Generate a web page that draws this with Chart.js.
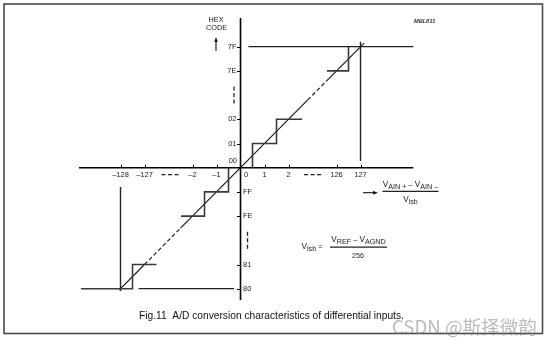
<!DOCTYPE html>
<html>
<head>
<meta charset="utf-8">
<script src="https://cdn.jsdelivr.net/npm/chart.js@4/dist/chart.umd.min.js"></script>
<style>
html,body{margin:0;padding:0;background:#fff;}
#wrap{width:554px;height:344px;position:relative;}
canvas{display:block;}
</style>
</head>
<body>
<div id="wrap"><canvas id="c" width="554" height="344"></canvas></div>
<script>
// ---- Tick values (real units) and their labels ----
const xTickValues = [-128, -127, -2, -1, 0, 1, 2, 126, 127];
const xTickLabels = ['–128', '–127', '–2', '–1', '0', '1', '2', '126', '127'];
const yTickValues = [127, 126, 2, 1, 0, -1, -2, -127, -128];
const yTickLabels = ['7F', '7E', '02', '01', '00', 'FF', 'FE', '81', '80'];

// ---- Series: [input (VAIN+ - VAIN-)/Vlsb, output code (signed)] ----
const stepPositive = [[0.5, 0], [0.5, 1], [1.5, 1], [1.5, 2], [2.57, 2]];
const stepNegative = [[-0.5, 0], [-0.5, -1], [-1.5, -1], [-1.5, -2], [-2.48, -2]];
const stepTop = [[125.6, 126], [126.5, 126], [126.5, 127]];
const level7F = [[0.33, 127], [129.2, 127]];
const marker127 = [[127, 127.2], [127, 0.28]];
const stepBottom = [[-129.65, -128], [-127.5, -128], [-127.5, -127], [-126.5, -127]];
const level80 = [[-127.25, -128], [-0.27, -128]];
const markerMinus128 = [[-128, -0.8], [-128, -128.1]];
const idealLine = [[-128.05, -128.05], [-127, -127], [-2.5, -2.5], [2.8, 2.8], [125.6, 125.6], [127.15, 127.15]];
const idealDashedSegments = [1, 3];

// axis extents (real units)
const xAxisExtent = [-129.73, 129.2];
const yAxisExtent = [-128.47, 128.19];

// broken axis: values beyond +/-125 are shifted next to the small values
function axisPos(v) { return v >= 125 ? v - 122 : (v <= -125 ? v + 123 : v); }
function toPts(arr) { return arr.map(p => ({ x: axisPos(p[0]), y: axisPos(p[1]) })); }

const STEP_COLOR = '#3a3a3a';

function lineDs(arr, color, width, extra) {
  return Object.assign({
    data: toPts(arr), borderColor: color, borderWidth: width,
    pointRadius: 0, fill: false, tension: 0, borderJoinStyle: 'miter', borderCapStyle: 'butt'
  }, extra || {});
}

const FONT = '"Liberation Sans", Arial, sans-serif';

function fitFont(ctx, text, targetW, weight, style, family) {
  ctx.font = (style || '') + ' ' + (weight || '') + ' 10px ' + (family || FONT);
  const w = ctx.measureText(text).width;
  return 10 * targetW / w;
}

function drawParts(ctx, x, y, parts) {
  let cx = x;
  for (const p of parts) {
    ctx.font = p.s + 'px ' + FONT;
    ctx.fillText(p.t, cx, y + (p.dy || 0));
    cx += ctx.measureText(p.t).width;
  }
  return cx - x;
}
function partsWidth(ctx, parts) {
  let w = 0;
  for (const p of parts) { ctx.font = p.s + 'px ' + FONT; w += ctx.measureText(p.t).width; }
  return w;
}

const decor = {
  id: 'decor',
  beforeDatasetsDraw(chart) {
    const ctx = chart.ctx;
    const xs = chart.scales.x, ys = chart.scales.y;
    const px = v => xs.getPixelForValue(axisPos(v));
    const py = v => ys.getPixelForValue(axisPos(v));
    ctx.save();
    // frame
    ctx.strokeStyle = '#4a4a4a';
    ctx.lineWidth = 1.6;
    ctx.strokeRect(4, 4, 538.5, 329.5);
    // axes
    ctx.strokeStyle = '#000';
    ctx.lineWidth = 1.6;
    ctx.beginPath();
    ctx.moveTo(px(xAxisExtent[0]), py(0));
    ctx.lineTo(px(xAxisExtent[1]), py(0));
    ctx.moveTo(px(0), py(yAxisExtent[1]));
    ctx.lineTo(px(0), py(yAxisExtent[0]));
    ctx.stroke();
    // x ticks (upwards)
    ctx.lineWidth = 1;
    ctx.beginPath();
    xTickValues.forEach(v => {
      if (v === 0) return;
      const x = Math.round(px(v)) + 0.5;
      ctx.moveTo(x, py(0)); ctx.lineTo(x, py(0) - 3);
    });
    // y ticks (left)
    yTickValues.forEach(v => {
      if (v === 0) return;
      const y = Math.round(py(v)) + 0.5;
      ctx.moveTo(px(0), y); ctx.lineTo(px(0) - 3.5, y);
    });
    ctx.stroke();
    ctx.restore();
  },
  afterDraw(chart) {
    const ctx = chart.ctx;
    const xs = chart.scales.x, ys = chart.scales.y;
    const px = v => xs.getPixelForValue(axisPos(v));
    const py = v => ys.getPixelForValue(axisPos(v));
    const x0 = px(0), y0 = py(0);
    ctx.save();
    ctx.fillStyle = '#1a1a1a';
    // x tick labels
    ctx.font = '7.5px ' + FONT;
    ctx.textBaseline = 'middle';
    ctx.textAlign = 'center';
    xTickValues.forEach((v, i) => {
      const x = v === 0 ? x0 + 5.5 : px(v);
      ctx.fillText(xTickLabels[i], x, y0 + 7.2);
    });
    // y tick labels
    yTickValues.forEach((v, i) => {
      if (v > 0) { ctx.textAlign = 'right'; ctx.fillText(yTickLabels[i], x0 - 4, py(v)); }
      else if (v === 0) { ctx.textAlign = 'right'; ctx.fillText(yTickLabels[i], x0 - 3.5, y0 - 6.5); }
      else { ctx.textAlign = 'left'; ctx.fillText(yTickLabels[i], x0 + 2.5, py(v)); }
    });
    // break dashes
    ctx.strokeStyle = '#222';
    ctx.lineWidth = 1.3;
    ctx.beginPath();
    const hDash = (cx, y) => { for (let k = -1; k <= 1; k++) { const s = cx + k * 6.5 - 2; ctx.moveTo(s, y); ctx.lineTo(s + 4, y); } };
    const vDash = (x, cy) => { for (let k = -1; k <= 1; k++) { const s = cy + k * 6.5 - 2; ctx.moveTo(x, s); ctx.lineTo(x, s + 4); } };
    hDash((px(-127) + px(-2)) / 2 + 1.5, y0 + 7);
    hDash((px(2) + px(126)) / 2, y0 + 7);
    vDash(x0 - 6.5, (py(126) + py(2)) / 2);
    vDash(x0 + 7, (py(-2) + py(-127)) / 2);
    ctx.stroke();

    // HEX CODE + arrow
    ctx.fillStyle = '#1a1a1a';
    ctx.textAlign = 'center';
    ctx.font = '7.3px ' + FONT;
    ctx.fillText('HEX', 216, 20);
    ctx.fillText('CODE', 216.5, 27.5);
    ctx.strokeStyle = '#111';
    ctx.lineWidth = 1.1;
    ctx.beginPath(); ctx.moveTo(216, 51); ctx.lineTo(216, 40); ctx.stroke();
    ctx.beginPath(); ctx.moveTo(216, 37); ctx.lineTo(214.3, 42); ctx.lineTo(217.7, 42); ctx.closePath(); ctx.fillStyle = '#111'; ctx.fill();

    // MBL831
    ctx.fillStyle = '#333';
    ctx.textAlign = 'left';
    ctx.font = 'italic bold 5.6px ' + FONT;
    ctx.fillText('MBL831', 414, 21);

    // formula 1: arrow + (VAIN+ - VAIN-)/Vlsb
    ctx.strokeStyle = '#111';
    ctx.lineWidth = 1.1;
    ctx.beginPath(); ctx.moveTo(363, 192.7); ctx.lineTo(374, 192.7); ctx.stroke();
    ctx.beginPath(); ctx.moveTo(378, 192.7); ctx.lineTo(373, 191); ctx.lineTo(373, 194.4); ctx.closePath(); ctx.fillStyle = '#111'; ctx.fill();
    ctx.fillStyle = '#1a1a1a';
    ctx.textBaseline = 'alphabetic';
    const num1 = [{ t: 'V', s: 8.2, dy: 0 }, { t: 'AIN +', s: 7.2, dy: 2 }, { t: ' – ', s: 7.5, dy: 0 }, { t: 'V', s: 8.2, dy: 0 }, { t: 'AIN –', s: 7.2, dy: 2 }];
    const w1 = partsWidth(ctx, num1);
    drawParts(ctx, 410.5 - w1 / 2, 186.5, num1);
    ctx.lineWidth = 1.2;
    ctx.strokeStyle = '#222';
    ctx.beginPath(); ctx.moveTo(382.5, 191.3); ctx.lineTo(438.5, 191.3); ctx.stroke();
    const den1 = [{ t: 'V', s: 8.2, dy: 0 }, { t: 'lsb', s: 7.2, dy: 2 }];
    const wd1 = partsWidth(ctx, den1);
    drawParts(ctx, 410.5 - wd1 / 2, 202, den1);

    // formula 2: Vlsb = (VREF - VAGND)/256
    const lhs = [{ t: 'V', s: 8.2, dy: 0 }, { t: 'lsb', s: 7.2, dy: 2.2 }, { t: ' =', s: 7.5, dy: 0.3 }];
    drawParts(ctx, 301.5, 249, lhs);
    const num2 = [{ t: 'V', s: 8.2, dy: 0 }, { t: 'REF', s: 7.2, dy: 2 }, { t: ' – ', s: 7.5, dy: 0 }, { t: 'V', s: 8.2, dy: 0 }, { t: 'AGND', s: 7.2, dy: 2 }];
    const w2 = partsWidth(ctx, num2);
    drawParts(ctx, 358.5 - w2 / 2, 241.5, num2);
    ctx.beginPath(); ctx.moveTo(330, 247.2); ctx.lineTo(387, 247.2); ctx.stroke();
    ctx.font = '7.2px ' + FONT;
    ctx.textAlign = 'center';
    ctx.fillText('256', 358, 257.5);

    // caption
    const cap = 'Fig.11  A/D conversion characteristics of differential inputs.';
    const capSize = fitFont(ctx, cap, 265);
    ctx.font = capSize.toFixed(2) + 'px ' + FONT;
    ctx.textAlign = 'left';
    ctx.fillStyle = '#111';
    ctx.fillText(cap, 139, 318.8);

    // watermark
    const wm = 'CSDN @斯择微韵';
    const wmFam = '"Noto Sans CJK SC", "Noto Sans", sans-serif';
    const wmSize = fitFont(ctx, wm, 145, '', '', wmFam);
    ctx.font = wmSize.toFixed(2) + 'px ' + wmFam;
    ctx.fillStyle = 'rgba(120,120,120,0.5)';
    ctx.textBaseline = 'middle';
    ctx.fillText(wm, 392, 327);
    ctx.restore();
  }
};

const chart = new Chart(document.getElementById('c').getContext('2d'), {
  type: 'line',
  data: {
    datasets: [
      lineDs(level7F, '#222', 1.3),
      lineDs(stepTop, STEP_COLOR, 1.6),
      lineDs(marker127, '#222', 1.4),
      lineDs(stepPositive, STEP_COLOR, 1.6),
      lineDs(stepNegative, STEP_COLOR, 1.6),
      lineDs(stepBottom, STEP_COLOR, 1.5),
      lineDs(level80, '#222', 1.3),
      lineDs(markerMinus128, '#222', 1.4),
      lineDs(idealLine, '#111', 1.1, {
        segment: { borderDash: c => idealDashedSegments.includes(c.p0DataIndex) ? [4, 2.5] : undefined }
      })
    ]
  },
  options: {
    responsive: false,
    animation: false,
    devicePixelRatio: 1,
    layout: { padding: 0 },
    scales: {
      x: { type: 'linear', display: false, min: -10.021, max: 13.062 },
      y: { type: 'linear', display: false, min: -7.285, max: 6.930 }
    },
    plugins: { legend: { display: false }, tooltip: { enabled: false } },
    elements: { point: { radius: 0 } }
  },
  plugins: [decor]
});
</script>
</body>
</html>
